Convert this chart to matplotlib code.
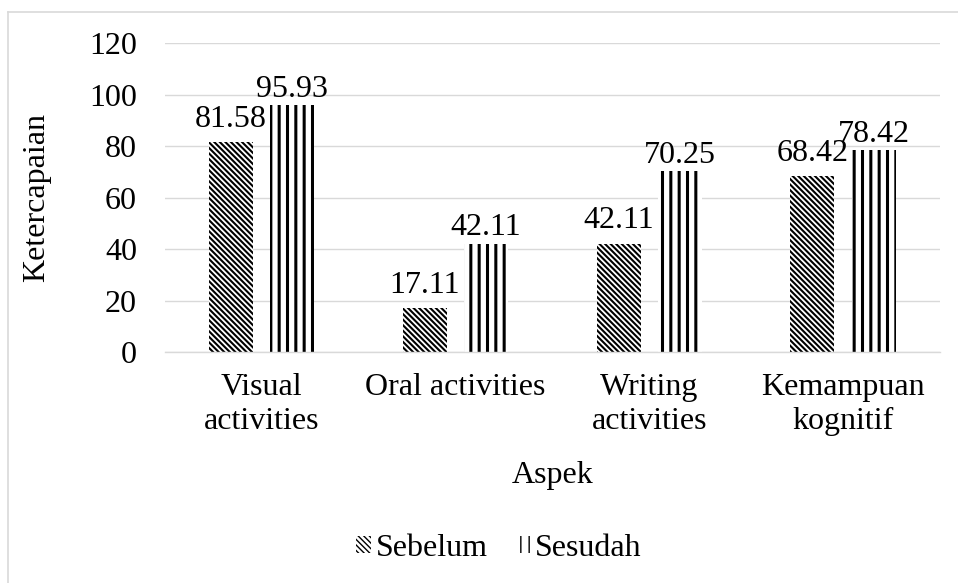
import matplotlib.pyplot as plt
import numpy as np
from matplotlib.lines import Line2D

aspek = ['Visual\nactivities', 'Oral activities', 'Writing\nactivities', 'Kemampuan\nkognitif']
sebelum = [81.58, 17.11, 42.11, 68.42]
sesudah = [95.93, 42.11, 70.25, 78.42]

plt.rcParams['font.family'] = ['Liberation Serif', 'DejaVu Serif']
FS = 23

fig = plt.figure(figsize=(9.58, 5.83), dpi=100)
ax = fig.add_axes([0.172, 0.396, 0.809, 0.530])

x = np.arange(len(aspek))
w = 0.227
off = 0.158

with plt.rc_context({'hatch.linewidth': 1.5}):
    b1 = ax.bar(x - off, sebelum, w, color='white', edgecolor='black', linewidth=0,
                hatch='\\\\\\\\\\\\', label='Sebelum')
with plt.rc_context({'hatch.linewidth': 2.2}):
    b2 = ax.bar(x + off, sesudah, w, color='white', edgecolor='black', linewidth=0,
                hatch='||', label='Sesudah')

for bars, lw in [(b1, 1.5), (b2, 2.2)]:
    for r in bars:
        if hasattr(r, 'set_hatch_linewidth'):
            r.set_hatch_linewidth(lw)

# value labels (Excel pushes the left ones a bit higher)
for bars, vals, dy in [(b1, sebelum, 11), (b2, sesudah, 6)]:
    for r, v in zip(bars, vals):
        ax.annotate('%.2f' % v, (r.get_x() + r.get_width() / 2, v),
                    xytext=(0, dy), textcoords='offset points',
                    ha='center', va='baseline', fontsize=FS)

ax.set_ylim(0, 120)
ax.set_yticks(range(0, 121, 20))
ax.set_xlim(-0.5, 3.5)
ax.set_xticks(x)
ax.set_xticklabels(aspek, fontsize=FS, linespacing=1.25)
ax.tick_params(axis='y', labelsize=FS, length=0, pad=20)
ax.tick_params(axis='x', length=0, pad=15)
ax.grid(axis='y', color='#d9d9d9', linewidth=1)
ax.set_axisbelow(True)
for s in ['top', 'right', 'left']:
    ax.spines[s].set_visible(False)
ax.spines['bottom'].set_color('#d9d9d9')
ax.spines['bottom'].set_linewidth(1)

ax.set_ylabel('Ketercapaian', fontsize=FS, labelpad=27)
ax.set_xlabel('Aspek', fontsize=FS, labelpad=18)

fig.legend(handles=[b1, b2], labels=['Sebelum', 'Sesudah'], loc='center',
           bbox_to_anchor=(0.521, 0.06), ncol=2, frameon=False, fontsize=FS,
           handlelength=0.45, handleheight=0.45, handletextpad=0.15, columnspacing=0.9)

# outer chart border
fig.add_artist(Line2D([8 / 958, 8 / 958], [0, 1 - 12 / 583], transform=fig.transFigure,
                      color='#d9d9d9', linewidth=1.2))
fig.add_artist(Line2D([8 / 958, 1], [1 - 12 / 583, 1 - 12 / 583], transform=fig.transFigure,
                      color='#d9d9d9', linewidth=1.2))

fig.savefig('out.png', dpi=100)
